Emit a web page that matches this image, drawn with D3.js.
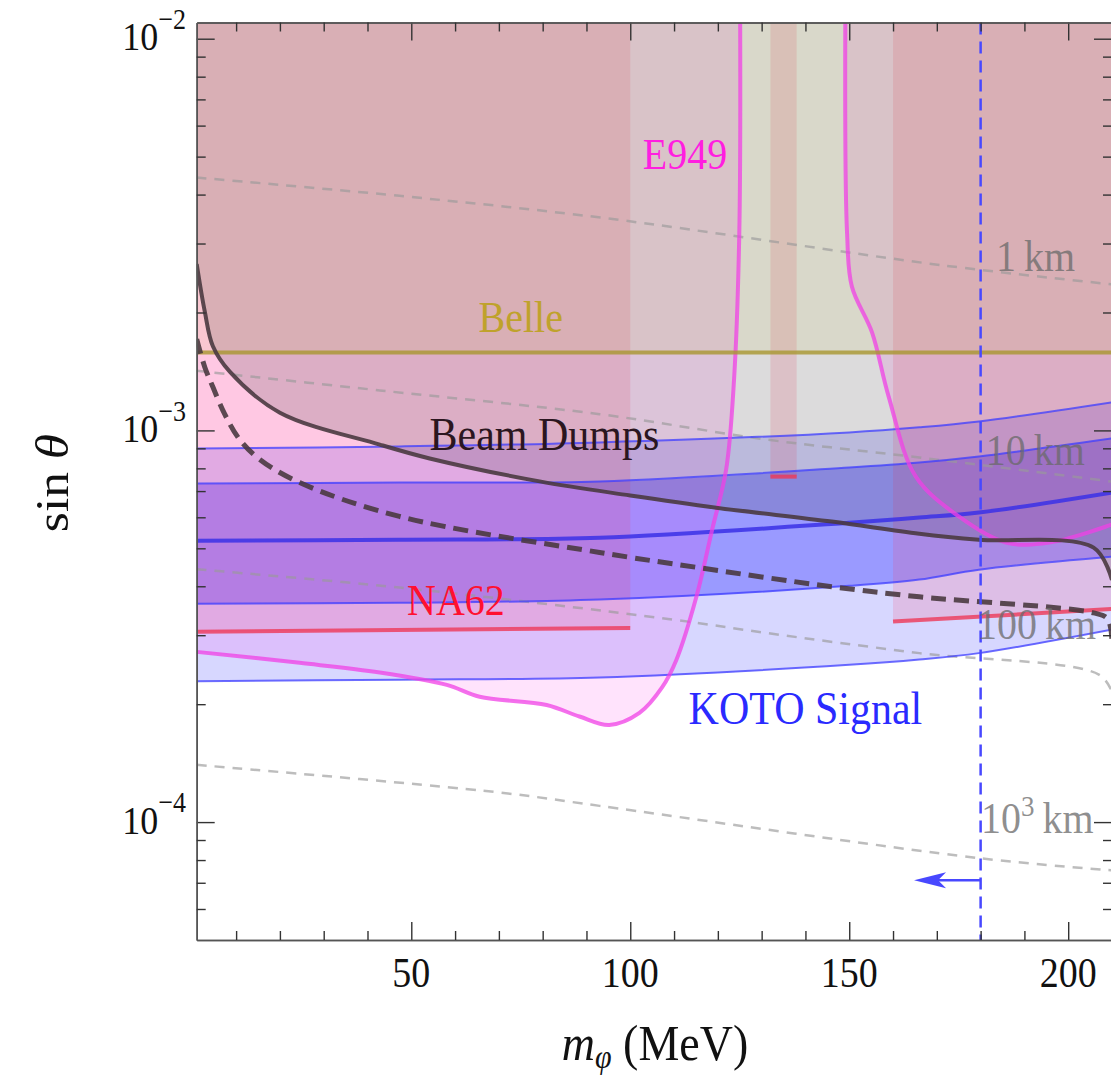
<!DOCTYPE html>
<html>
<head>
<meta charset="utf-8">
<script src="https://cdn.jsdelivr.net/npm/d3@7"></script>
<style>
  body { margin: 0; background: #fff; }
  svg { display: block; font-family: "Liberation Serif", "DejaVu Serif", serif; }
  .frame .domain { stroke: #555; stroke-width: 1.6; }
  .frame .tick line { stroke: #333; stroke-width: 1.4; }
</style>
</head>
<body>
<div id="chart"></div>
<script>
// axes
const massDomain = [1, 210];
const sinDomain = [5e-5, 1.1e-2];
const massTicks = [50, 100, 150, 200];
const sinTicks = [1e-4, 1e-3, 1e-2];
const sinExps = [-4, -3, -2];

// KOTO signal band (2 sigma, 1 sigma, central)
const kotoMass = [1, 47.3, 93, 150, 166, 179.6, 210];
const koto2Hi = [8.99e-4, 9.10e-4, 9.32e-4, 9.88e-4, 1.018e-3, 1.054e-3, 1.18e-3];
const koto1Hi = [7.32e-4, 7.36e-4, 7.41e-4, 8.04e-4, 8.28e-4, 8.58e-4, 9.54e-4];
const kotoMid = [5.23e-4, 5.26e-4, 5.32e-4, 5.81e-4, 5.99e-4, 6.17e-4, 6.94e-4];
const koto1Lo = [3.61e-4, 3.63e-4, 3.70e-4, 4.01e-4, 4.16e-4, 4.41e-4, 4.76e-4];
const koto2Lo = [2.29e-4, 2.31e-4, 2.34e-4, 2.52e-4, 2.60e-4, 2.70e-4, 3.10e-4];

// E949 (two branches around the pi0 window)
const e949LeftMass = [1, 24.5, 42.8, 58.1, 65.6, 80.9, 88.4, 95.2, 102.1, 107.3, 110.5, 115.1, 118.7, 121.9, 123.7, 124.9, 125.1];
const e949LeftSin = [2.72e-4, 2.55e-4, 2.41e-4, 2.24e-4, 2.09e-4, 1.99e-4, 1.86e-4, 1.77e-4, 1.90e-4, 2.21e-4, 2.59e-4, 3.76e-4, 5.58e-4, 7.95e-4, 1.35e-3, 3.2e-3, 1.1e-2];
const e949RightMass = [149.1, 149.5, 150.6, 155.2, 159.0, 165.2, 175.1, 185.8, 195.6, 210];
const e949RightSin = [1.1e-2, 3.2e-3, 2.33e-3, 1.78e-3, 1.22e-3, 7.62e-4, 6.02e-4, 5.17e-4, 5.17e-4, 5.75e-4];

// NA62 segments
const na62From = [1, 132, 160];
const na62To = [100, 138, 210];
const na62SinFrom = [3.06e-4, 7.62e-4, 3.25e-4];
const na62SinTo = [3.13e-4, 7.62e-4, 3.50e-4];

// Belle
const belleSin = 1.58e-3;

// beam dumps
const dumpMass = [1, 2.85, 4.7, 8.6, 20, 42.8, 54.2, 79.3, 100, 119.6, 146, 166, 179.6, 205.8, 210];
const dumpSin = [2.66e-3, 2.01e-3, 1.64e-3, 1.41e-3, 1.11e-3, 9.2e-4, 8.48e-4, 7.41e-4, 6.82e-4, 6.35e-4, 5.85e-4, 5.45e-4, 5.26e-4, 5.02e-4, 4.15e-4];
const dumpDashMass = [1, 2.85, 4.7, 7.4, 10.8, 15.4, 24.5, 47.3, 93, 115.8, 146, 166, 205.8, 209, 210];
const dumpDashSin = [1.71e-3, 1.45e-3, 1.29e-3, 1.10e-3, 9.48e-4, 8.43e-4, 7.36e-4, 6.03e-4, 4.88e-4, 4.46e-4, 3.99e-4, 3.76e-4, 3.42e-4, 3.3e-4, 2.9e-4];

// decay length contours
const decayNames = ["1 km", "10 km", "100 km", "10^3 km"];
const decayMass = [
  [1, 47.3, 94.5, 171.2, 210],
  [1, 42.8, 93, 131, 166, 210],
  [1, 47.3, 109.6, 131, 166, 207, 210],
  [1, 70.1, 93, 179.6, 210]
];
const decaySin = [
  [4.42e-3, 3.97e-3, 3.48e-3, 2.64e-3, 2.36e-3],
  [1.42e-3, 1.265e-3, 1.10e-3, 9.48e-4, 8.53e-4, 7.40e-4],
  [4.42e-4, 3.97e-4, 3.29e-4, 3.04e-4, 2.70e-4, 2.38e-4, 2.15e-4],
  [1.40e-4, 1.19e-4, 1.10e-4, 8.09e-5, 7.53e-5]
];
const decayLabelMass = [183.5, 181.2, 179.2, 180.1];
const decayLabelSin = [2.55e-3, 8.14e-4, 2.94e-4, 9.37e-5];

// KOTO mass reach and arrow
const kotoEdge = 180;
const arrowMass = [180, 164.8];
const arrowSin = 7.1e-5;

const W = 1111, H = 1080;
const svg = d3.select("#chart").append("svg").attr("width", W).attr("height", H);

const x = d3.scaleLinear().domain(massDomain).range([196.7, 1112]);
const y = d3.scaleLog().domain(sinDomain).range([940, 22.5]);
const sinTop = sinDomain[1];
const sy = 1.12; // glyphs in the figure are stretched vertically

svg.append("clipPath").attr("id", "plot").append("rect")
  .attr("x", x(massDomain[0])).attr("y", y(sinTop))
  .attr("width", x(massDomain[1]) - x(massDomain[0]))
  .attr("height", y(sinDomain[0]) - y(sinTop));

const plot = svg.append("g").attr("clip-path", "url(#plot)");
const pts = (ms, ss) => d3.zip(ms, ss);

const smooth = d3.curveCatmullRom.alpha(0.5);
const line = d3.line().x(d => x(d[0])).y(d => y(d[1])).curve(smooth);
const band = d3.area().x(d => x(d[0])).y0(d => y(d[1])).y1(d => y(d[2])).curve(d3.curveMonotoneX);
const toTop = d3.area().x(d => x(d[0])).y0(y(sinTop)).y1(d => y(d[1])).curve(smooth);

// fills
plot.append("path").attr("d", band(d3.zip(kotoMass, koto2Lo, koto2Hi)))
  .attr("fill", "rgb(80,80,255)").attr("fill-opacity", 0.23);
plot.append("path").attr("d", band(d3.zip(kotoMass, koto1Lo, koto1Hi)))
  .attr("fill", "rgb(80,80,255)").attr("fill-opacity", 0.45);

plot.append("path").attr("d", toTop(pts(e949LeftMass, e949LeftSin)))
  .attr("fill", "rgb(255,40,230)").attr("fill-opacity", 0.13);
plot.append("path").attr("d", toTop(pts(e949RightMass, e949RightSin)))
  .attr("fill", "rgb(255,40,230)").attr("fill-opacity", 0.13);

na62From.forEach((m, i) => {
  const poly = [[m, na62SinFrom[i]], [na62To[i], na62SinTo[i]], [na62To[i], sinTop], [m, sinTop]];
  plot.append("path")
    .attr("d", "M" + poly.map(p => [x(p[0]), y(p[1])].join(",")).join("L") + "Z")
    .attr("fill", "rgb(255,50,85)").attr("fill-opacity", 0.15);
});

plot.append("path").attr("d", toTop(pts(dumpMass, dumpSin)))
  .attr("fill", "rgb(66,60,64)").attr("fill-opacity", 0.185);

plot.append("rect")
  .attr("x", x(massDomain[0])).attr("y", y(sinTop))
  .attr("width", x(massDomain[1]) - x(massDomain[0]))
  .attr("height", y(belleSin) - y(sinTop))
  .attr("fill", "rgb(196,196,0)").attr("fill-opacity", 0.08);

// decay length contours
decayMass.forEach((ms, i) => {
  plot.append("path").attr("d", line(pts(ms, decaySin[i])))
    .attr("fill", "none").attr("stroke", "#999").attr("stroke-opacity", 0.65)
    .attr("stroke-width", 2.5).attr("stroke-dasharray", "10,8");
});

// KOTO lines
[koto2Hi, koto1Hi, koto1Lo, koto2Lo].forEach(arr => {
  plot.append("path").attr("d", line(pts(kotoMass, arr)))
    .attr("fill", "none").attr("stroke", "#3c3cff").attr("stroke-opacity", 0.75).attr("stroke-width", 2);
});
plot.append("path").attr("d", line(pts(kotoMass, kotoMid)))
  .attr("fill", "none").attr("stroke", "#3a30e6").attr("stroke-opacity", 0.85).attr("stroke-width", 4);

// E949 curve
[pts(e949LeftMass, e949LeftSin), pts(e949RightMass, e949RightSin)].forEach(p => {
  plot.append("path").attr("d", line(p))
    .attr("fill", "none").attr("stroke", "#f040e6").attr("stroke-opacity", 0.75).attr("stroke-width", 4);
});

// NA62 lines
na62From.forEach((m, i) => {
  plot.append("line")
    .attr("x1", x(m)).attr("y1", y(na62SinFrom[i]))
    .attr("x2", x(na62To[i])).attr("y2", y(na62SinTo[i]))
    .attr("stroke", "#ee3858").attr("stroke-opacity", 0.8).attr("stroke-width", 4);
});

// Belle line
plot.append("line")
  .attr("x1", x(massDomain[0])).attr("x2", x(massDomain[1]))
  .attr("y1", y(belleSin)).attr("y2", y(belleSin))
  .attr("stroke", "#a89630").attr("stroke-opacity", 0.8).attr("stroke-width", 4);

// beam dump curves
plot.append("path").attr("d", line(pts(dumpMass, dumpSin)))
  .attr("fill", "none").attr("stroke", "#4a3a40").attr("stroke-opacity", 0.9).attr("stroke-width", 4);
plot.append("path").attr("d", line(pts(dumpDashMass, dumpDashSin)))
  .attr("fill", "none").attr("stroke", "#4a3a40").attr("stroke-opacity", 0.9)
  .attr("stroke-width", 5).attr("stroke-dasharray", "15,8");

// KOTO reach
plot.append("line")
  .attr("x1", x(kotoEdge)).attr("x2", x(kotoEdge))
  .attr("y1", y(sinTop)).attr("y2", y(sinDomain[0]))
  .attr("stroke", "#4848ff").attr("stroke-width", 2.5).attr("stroke-dasharray", "12,7");
const ay = y(arrowSin);
const tip = x(arrowMass[1]);
plot.append("line")
  .attr("x1", x(arrowMass[0])).attr("x2", tip + 20)
  .attr("y1", ay).attr("y2", ay)
  .attr("stroke", "#4848ff").attr("stroke-width", 2.5);
plot.append("path")
  .attr("d", `M${tip},${ay}L${tip + 32},${ay - 8}L${tip + 24},${ay}L${tip + 32},${ay + 8}Z`)
  .attr("fill", "#4848ff");

// text helper
function addText(g, px, py, str, size, color, anchor, opacity) {
  const t = g.append("text")
    .attr("transform", `translate(${px},${py}) scale(1,${sy})`)
    .attr("font-size", size).attr("fill", color)
    .attr("text-anchor", anchor || "middle");
  if (opacity != null) t.attr("fill-opacity", opacity);
  return t.text(str);
}

// region labels
const labels = svg.append("g");
addText(labels, x(112.5), y(4.65e-3), "E949", 40, "#ff1ee0");
addText(labels, x(75), y(1.78e-3), "Belle", 40, "#bfa22c");
addText(labels, x(80.4), y(8.89e-4), "Beam Dumps", 42, "#2b1620");
addText(labels, x(60.2), y(3.38e-4), "NA62", 40, "#ff1030");
addText(labels, x(140), y(1.78e-4), "KOTO Signal", 42, "#2a2aff");

decayNames.forEach((name, i) => {
  const px = x(decayLabelMass[i]), py = y(decayLabelSin[i]);
  if (name.indexOf("^") < 0) {
    addText(labels, px, py, name.replace(" ", "\u2009"), 40, "#6a6a6a", "start", 0.75);
  } else {
    const parts = name.split(/\^| /);
    const t = addText(labels, px, py, parts[0], 40, "#6a6a6a", "start", 0.75);
    t.append("tspan").attr("font-size", 27).attr("dy", -15).text(parts[1]);
    t.append("tspan").attr("dy", 15).text("\u2009" + parts[2]);
  }
});

// frame and ticks
const minorMass = d3.range(10, 210, 10).filter(v => !massTicks.includes(v));
const minorSin = [];
[-5, -4, -3, -2].forEach(e => d3.range(2, 10).forEach(d => {
  const v = d * Math.pow(10, e);
  if (v > sinDomain[0] && v < sinDomain[1]) minorSin.push(v);
}));

const x0 = x(massDomain[0]), x1 = x(massDomain[1]);
const y0 = y(sinDomain[0]), y1 = y(sinTop);

function frame(axis, tf, vals, len) {
  svg.append("g").attr("class", "frame").attr("transform", tf)
    .call(axis.tickValues(vals).tickSizeInner(-len).tickSizeOuter(0).tickFormat(""));
}
frame(d3.axisBottom(x), `translate(0,${y0})`, massTicks, 18);
frame(d3.axisBottom(x), `translate(0,${y0})`, minorMass, 9);
frame(d3.axisTop(x), `translate(0,${y1})`, massTicks, 18);
frame(d3.axisTop(x), `translate(0,${y1})`, minorMass, 9);
frame(d3.axisLeft(y), `translate(${x0},0)`, sinTicks, 18);
frame(d3.axisLeft(y), `translate(${x0},0)`, minorSin, 9);
frame(d3.axisRight(y), `translate(${x1},0)`, sinTicks, 18);
frame(d3.axisRight(y), `translate(${x1},0)`, minorSin, 9);

// tick labels
const tickG = svg.append("g");
massTicks.forEach(m => addText(tickG, x(m), 987, String(m), 38, "#111"));
sinTicks.forEach((v, i) => {
  const t = addText(tickG, 186, y(v) + 11.5, "10", 36, "#111", "end");
  t.append("tspan").attr("font-size", 26).attr("dy", -19).text("\u2212" + Math.abs(sinExps[i]));
});

// axis titles
const xt = svg.append("text")
  .attr("transform", `translate(655,1060) scale(1,${sy})`)
  .attr("font-size", 46).attr("text-anchor", "middle").attr("fill", "#111");
xt.append("tspan").attr("font-style", "italic").text("m");
xt.append("tspan").attr("font-style", "italic").attr("font-size", 30).attr("dy", 7).text("\u03c6");
xt.append("tspan").attr("dy", -7).text(" (MeV)");

const yt = svg.append("text")
  .attr("transform", `translate(68,483) rotate(-90) scale(${sy},1)`)
  .attr("font-size", 46).attr("text-anchor", "middle").attr("fill", "#111");
yt.append("tspan").text("sin ");
yt.append("tspan").attr("font-style", "italic").text("\u03b8");
</script>
</body>
</html>
